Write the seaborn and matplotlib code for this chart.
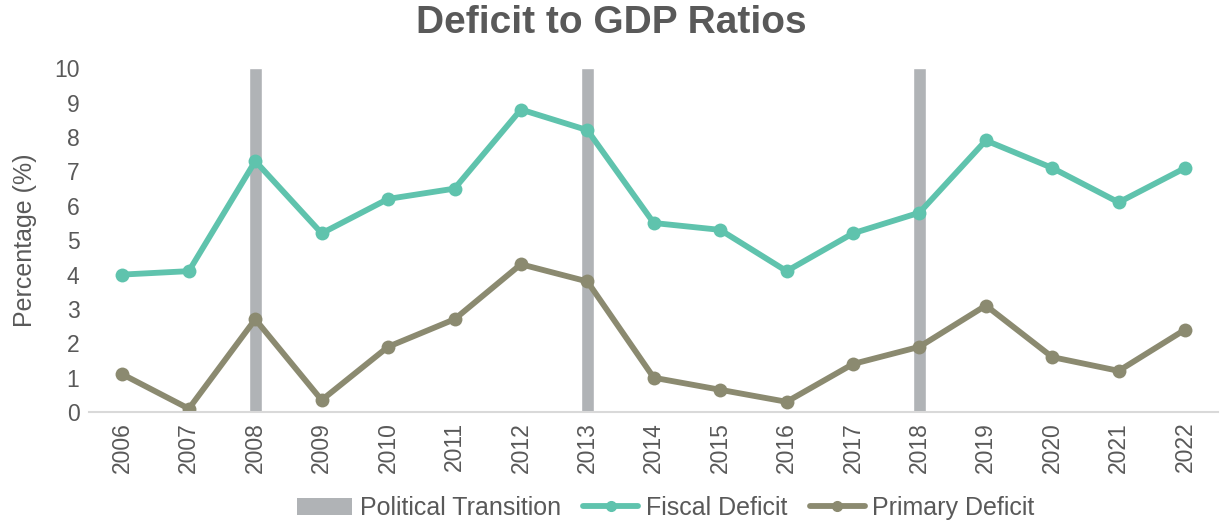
import numpy as np
import pandas as pd
import matplotlib
matplotlib.use("Agg")
import matplotlib.pyplot as plt
import seaborn as sns
from matplotlib.patches import Patch
from matplotlib.lines import Line2D

YEARS = [str(y) for y in range(2006, 2023)]
FISCAL = [4.0, 4.1, 7.3, 5.2, 6.2, 6.5, 8.8, 8.2, 5.5, 5.3, 4.1, 5.2, 5.8, 7.9, 7.1, 6.1, 7.1]
PRIMARY = [1.1, 0.1, 2.7, 0.35, 1.9, 2.7, 4.3, 3.8, 1.0, 0.65, 0.3, 1.4, 1.9, 3.1, 1.6, 1.2, 2.4]
TRANSITION_YEARS = ["2008", "2013", "2018"]
TRANSITION_HEIGHT = 10

TEAL = "#5fc3ad"
OLIVE = "#8b8a70"
GREY_BAR = "#b0b3b6"
TXT = "#595959"

sns.set_theme(style="white")
plt.rcParams["font.family"] = ["Liberation Sans", "DejaVu Sans"]

df = pd.DataFrame({
    "pos": np.arange(len(YEARS)),
    "year": YEARS,
    "fiscal": FISCAL,
    "primary": PRIMARY,
    "transition": [TRANSITION_HEIGHT if y in TRANSITION_YEARS else 0 for y in YEARS],
})

fig, ax = plt.subplots(figsize=(12.22, 5.25), dpi=100)

# political transition bars
sns.barplot(data=df, x="pos", y="transition", color=GREY_BAR, width=0.2,
            saturation=1, ax=ax, native_scale=True)

sns.lineplot(data=df, x="pos", y="fiscal", color=TEAL, linewidth=4.2,
             marker="o", markersize=10, markeredgewidth=0, ax=ax)
sns.lineplot(data=df, x="pos", y="primary", color=OLIVE, linewidth=4.2,
             marker="o", markersize=10, markeredgewidth=0, ax=ax)

ax.set_xlim(-0.5, len(YEARS) - 0.5)
ax.set_ylim(0, 10)
ax.set_yticks(range(0, 11))
ax.set_xticks(df["pos"])
ax.set_xticklabels(YEARS, rotation=90)
ax.tick_params(axis="both", labelsize=16.5, colors=TXT, length=0, pad=7)
ax.set_xlabel("")
ax.set_ylabel("Percentage (%)", fontsize=18, color=TXT, labelpad=12)

for s in ["top", "right", "left"]:
    ax.spines[s].set_visible(False)
ax.spines["bottom"].set_color("#d9d9d9")
ax.spines["bottom"].set_linewidth(1.5)

fig.suptitle("Deficit to GDP Ratios", fontsize=28, fontweight="bold", color=TXT,
             x=0.5, y=0.99)

handles = [
    Patch(facecolor=GREY_BAR, edgecolor="none"),
    Line2D([0], [0], color=TEAL, linewidth=4.2, marker="o", markersize=7),
    Line2D([0], [0], color=OLIVE, linewidth=4.2, marker="o", markersize=7),
]
leg = fig.legend(handles, ["Political Transition", "Fiscal Deficit", "Primary Deficit"],
                 loc="center", bbox_to_anchor=(0.545, 0.032), ncol=3, frameon=False,
                 fontsize=18, handlelength=2.2, columnspacing=0.9, handletextpad=0.3)
for t in leg.get_texts():
    t.set_color(TXT)

plt.subplots_adjust(left=0.073, right=0.997, top=0.87, bottom=0.215)
plt.savefig("out.png", dpi=100)
